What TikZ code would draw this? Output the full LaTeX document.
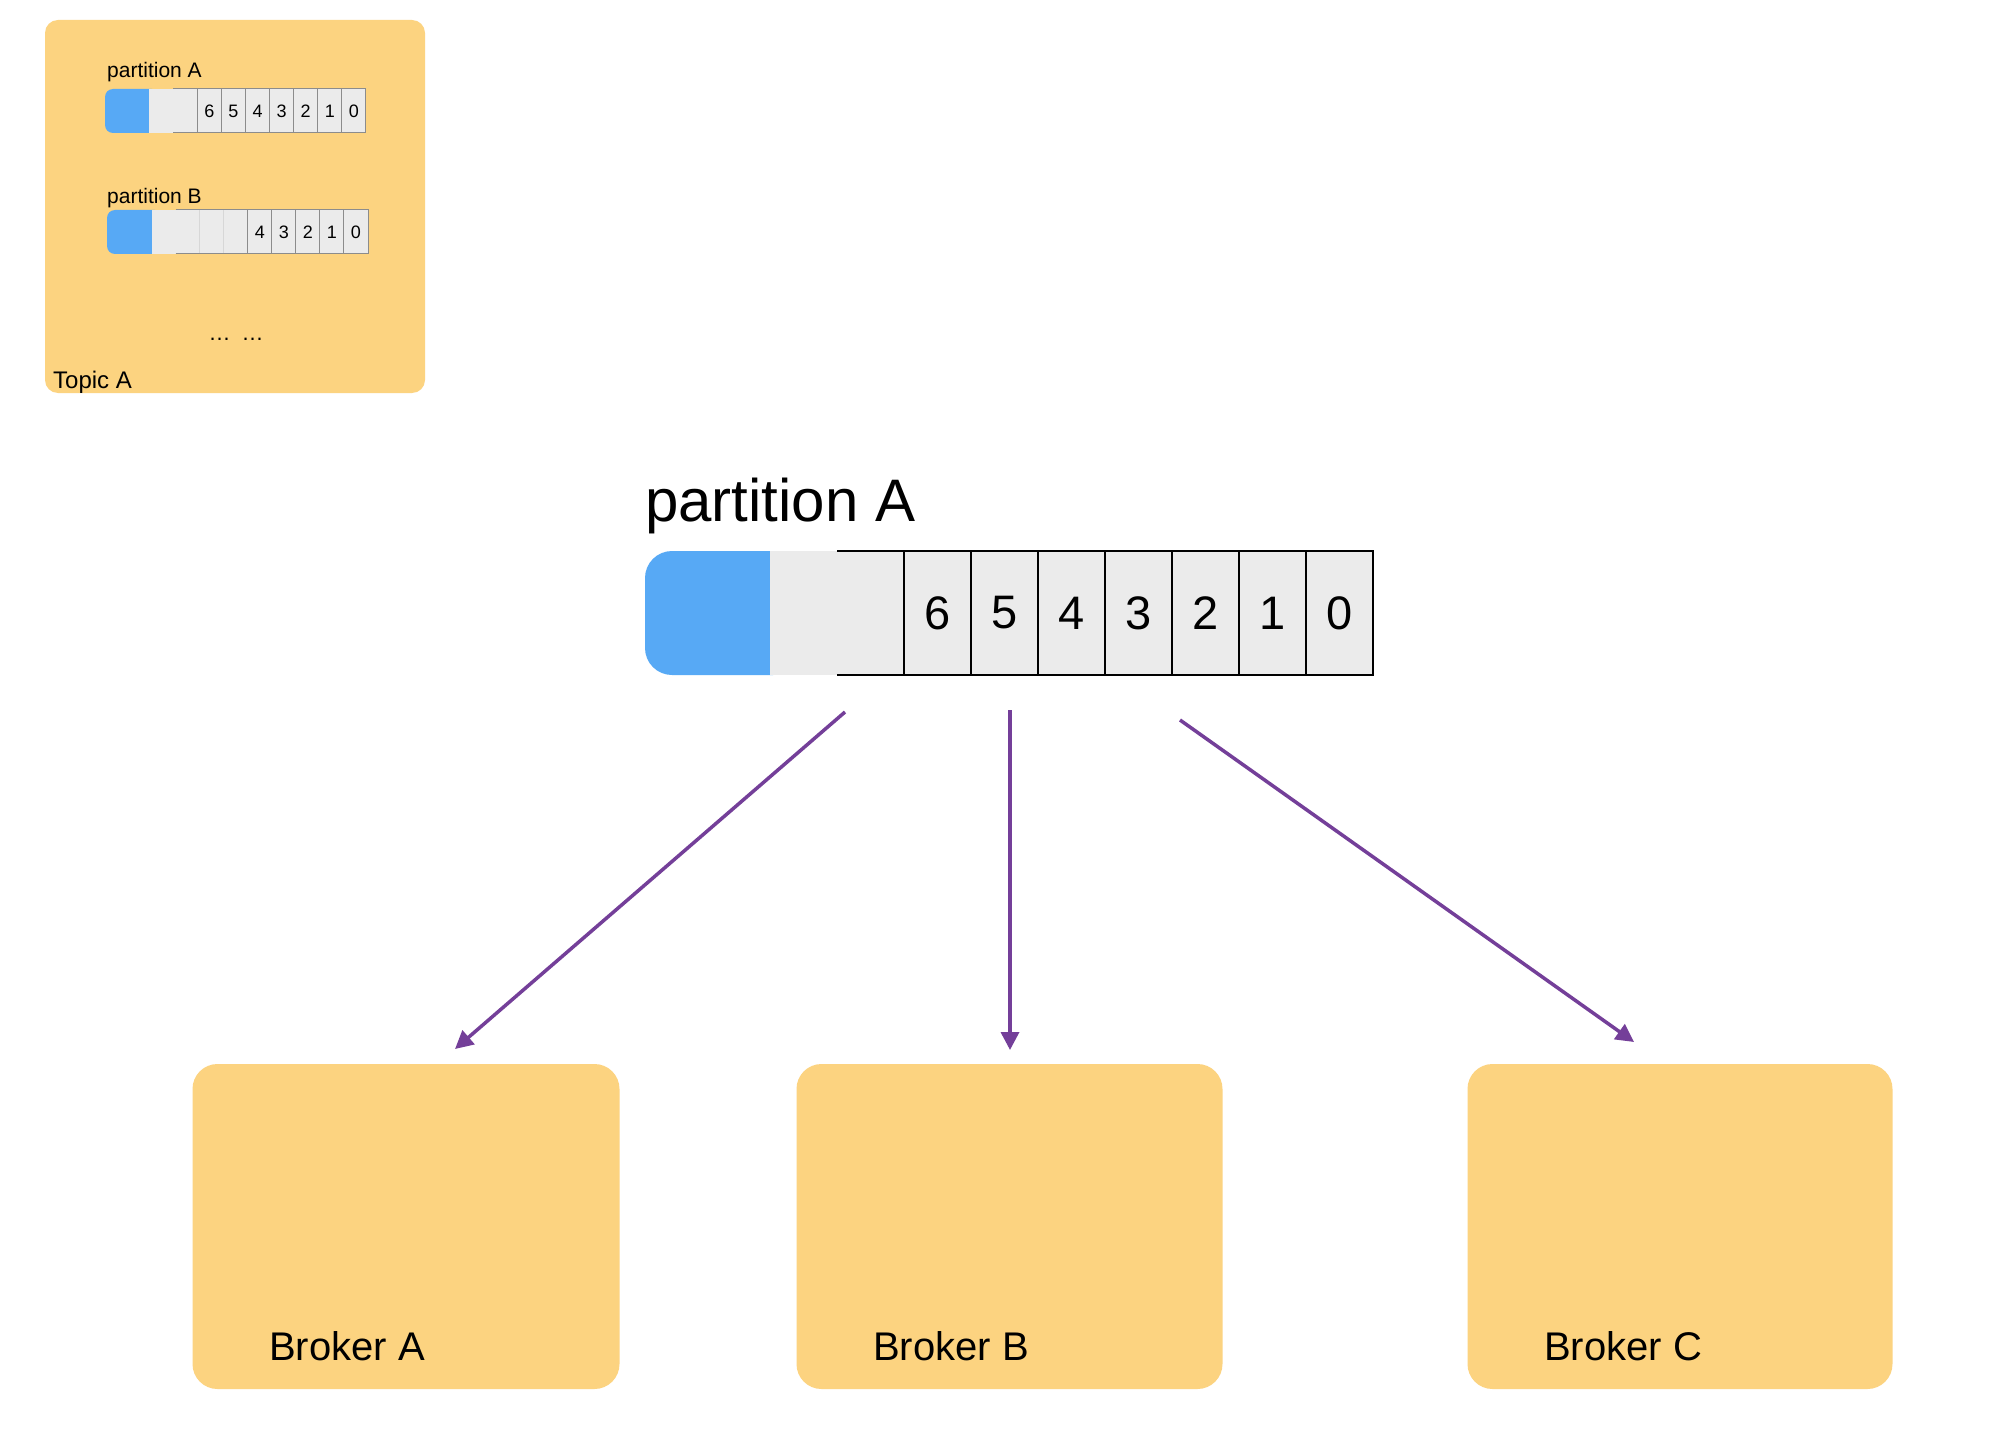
\documentclass[tikz,border=0pt]{standalone}
\usepackage{fontspec}
\setmainfont{Liberation Sans}
\usetikzlibrary{arrows.meta}
\definecolor{boxorange}{RGB}{252,211,128}
\definecolor{barblue}{RGB}{87,169,245}
\definecolor{cellgray}{RGB}{235,235,235}
\definecolor{lineGray}{RGB}{140,140,140}
\definecolor{faintGray}{RGB}{215,215,215}
\definecolor{arrowpurple}{RGB}{116,63,153}
\begin{document}
\begin{tikzpicture}[x=1pt,y=-1pt,
  panel/.style={fill=boxorange, draw=none, inner sep=0pt, outer sep=0pt, anchor=north west},
  bigcell/.style={draw=black, line width=2pt, fill=cellgray, minimum width=67pt, minimum height=124pt, inner sep=0pt, outer sep=0pt, anchor=north west, font=\fontsize{47}{56}\selectfont},
  smallcell/.style={draw=lineGray, line width=1pt, fill=cellgray, minimum width=24.07pt, minimum height=44pt, inner sep=0pt, outer sep=0pt, anchor=north west, font=\fontsize{18}{22}\selectfont},
  lbl/.style={inner sep=0pt, anchor=base west},
  flow/.style={draw=arrowpurple, line width=3.5pt, -{Triangle[length=18pt,width=18pt]}},
]
\useasboundingbox (0,0) rectangle (2014,1442);
\fill[white] (0,0) rectangle (2014,1442);

% Topic box
\node[panel, rounded corners=13pt, minimum width=380pt, minimum height=373pt] (topic) at (45,20) {};
\node[lbl, font=\fontsize{24}{28}\selectfont] (topiclbl) at (53,388) {Topic A};

% small partition A
\node[lbl, font=\fontsize{21}{25}\selectfont] (spA) at (107,78) {partition A};
\fill[barblue, rounded corners=8pt] (105,89) rectangle (160,133);
\fill[cellgray] (149,89) rectangle (173.3,133);
\fill[cellgray] (173.3,89) rectangle (197.37,133);
\draw[lineGray, line width=1pt] (173.3,89) -- (197.37,89) (173.3,133) -- (197.37,133);
\foreach \d [count=\i] in {6,5,4,3,2,1,0}
  \node[smallcell] (sa\d) at ({173.3+24.07*\i},89) {\d};

% small partition B
\node[lbl, font=\fontsize{21}{25}\selectfont] (spB) at (107,204) {partition B};
\fill[barblue, rounded corners=8pt] (107,210) rectangle (163,254);
\fill[cellgray] (152,210) rectangle (175.7,254);
\fill[cellgray] (175.7,210) rectangle (247.8,254);
\draw[faintGray, line width=1pt] (199.74,210) -- (199.74,254) (223.78,210) -- (223.78,254);
\draw[lineGray, line width=1pt] (175.7,210) -- (247.8,210) (175.7,254) -- (247.8,254);
\foreach \d [count=\i] in {4,3,2,1,0}
  \node[smallcell, minimum width=24.04pt] (sb\d) at ({175.7+24.04*(\i+2)},210) {\d};

\node[inner sep=0pt, anchor=base, font=\fontsize{22}{26}\selectfont] (dots) at (236,340) {…\enspace…};

% big partition A
\node[lbl, font=\fontsize{60}{72}\selectfont] (bigpA) at (645,521) {partition A};
\fill[barblue, rounded corners=27pt] (645,551) rectangle (800,675);
\fill[cellgray] (770,551) rectangle (837,675);
\fill[cellgray] (837,551) rectangle (904,675);
\draw[black, line width=2pt] (837,551) -- (904,551) (837,675) -- (904,675);
\foreach \d [count=\i] in {6,5,4,3,2,1,0}
  \node[bigcell] (big\d) at ({837+67*\i},551) {\d};

% brokers
\node[panel, rounded corners=25pt, minimum width=427pt, minimum height=325pt] (brA) at (192.5,1064) {};
\node[panel, rounded corners=25pt, minimum width=426pt, minimum height=325pt] (brB) at (796.5,1064) {};
\node[panel, rounded corners=25pt, minimum width=425pt, minimum height=325pt] (brC) at (1467.5,1064) {};
\node[lbl, font=\fontsize{40}{48}\selectfont] (lA) at (269,1360) {Broker A};
\node[lbl, font=\fontsize{40}{48}\selectfont] (lB) at (873,1360) {Broker B};
\node[lbl, font=\fontsize{40}{48}\selectfont] (lC) at (1544,1360) {Broker C};

% arrows
\coordinate (s1) at (845,712);
\coordinate (e1) at (455,1049);
\coordinate (s2) at (1010,710);
\coordinate (e2) at (1010,1050);
\coordinate (s3) at (1180,720);
\coordinate (e3) at (1634,1042);
\draw[flow] (s1) -- (e1);
\draw[flow] (s2) -- (e2);
\draw[flow] (s3) -- (e3);
\end{tikzpicture}
\end{document}
